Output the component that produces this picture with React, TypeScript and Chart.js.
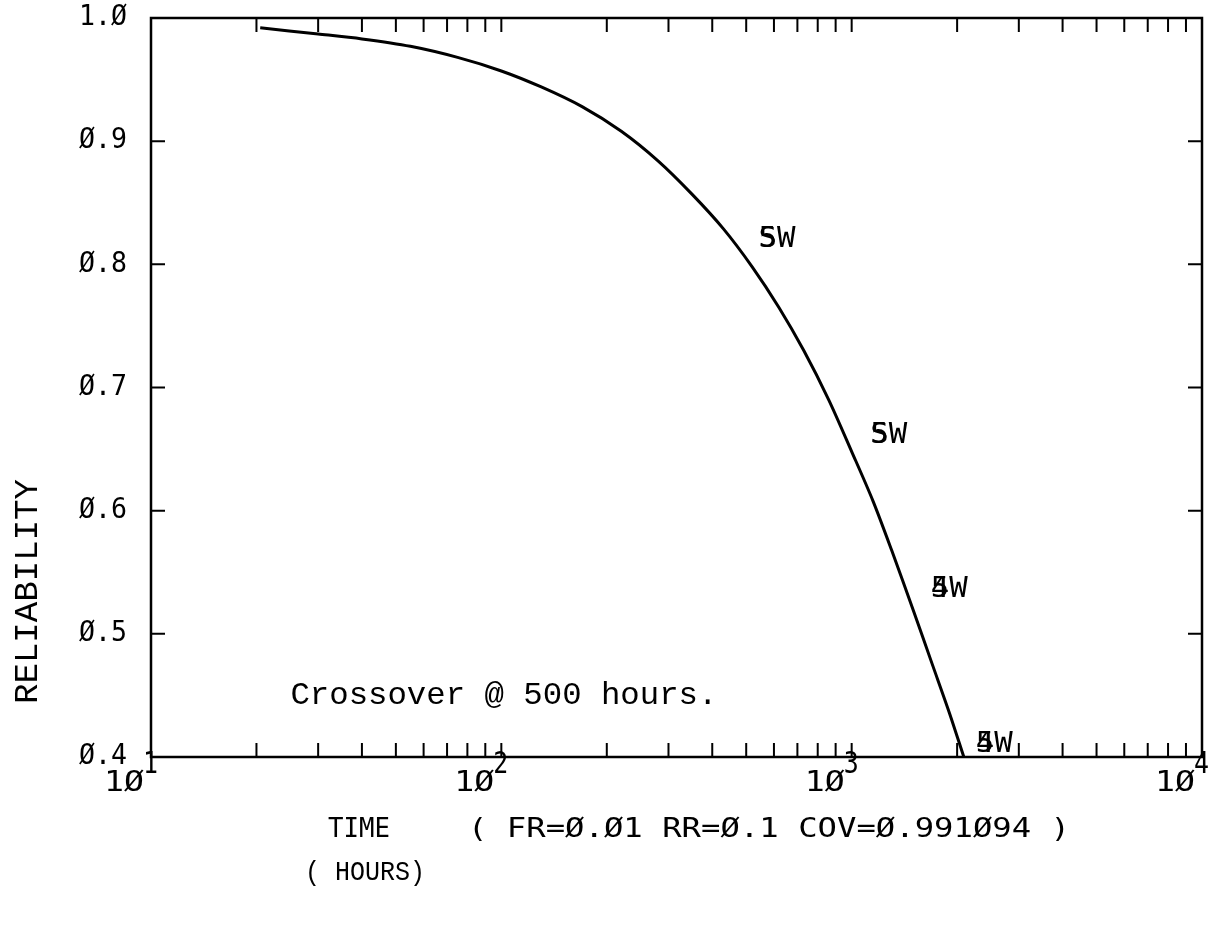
import React, { useEffect, useRef } from "react";
import { Chart, registerables } from "chart.js";

Chart.register(...registerables);

// ---- data ----
const curveTime = [20.5, 30, 40, 55, 75, 100, 130, 170, 220, 280, 350, 430, 520, 620, 730, 860, 1000, 1150, 1300, 1500, 1700, 1900, 2090];
const curveRel = [0.992, 0.987, 0.983, 0.977, 0.968, 0.957, 0.944, 0.928, 0.908, 0.884, 0.857, 0.829, 0.798, 0.765, 0.73, 0.69, 0.648, 0.608, 0.568, 0.519, 0.475, 0.436, 0.4];

const markerTime = [542, 1130, 1683, 2260];
const markerRel = [0.82, 0.661, 0.536, 0.41];
const markerText = ["5W", "5W", "5W", "5W"];
const markerOverstrike = ["S", "S", "4", "4"];

const yTickValues = [0.5, 0.6, 0.7, 0.8, 0.9];
const xMinorTicks = [20, 30, 40, 50, 60, 70, 80, 90, 100, 200, 300, 400, 500, 600, 700, 800, 900, 1000, 2000, 3000, 4000, 5000, 6000, 7000, 8000, 9000];
const xDecades = [10, 100, 1000, 10000];
const xDecadeExponents = ["1", "2", "3", "4"];

const yAxisTitle = "RELIABILITY";
const xAxisTitle = "TIME";
const xAxisNote = "( FR=Ø.Ø1 RR=Ø.1 COV=Ø.991Ø94 )";
const xAxisUnit = "( HOURS)";
const annotationText = "Crossover @ 500 hours.";
const annotationTime = 25;
const annotationRel = 0.45;

const PLOT_FONT = "'DejaVu Sans Mono', monospace";
const COURIER = "'Liberation Mono', 'Courier New', monospace";

function fitText(ctx: CanvasRenderingContext2D, text: string, x: number, y: number, width: number) {
  const w = ctx.measureText(text).width;
  const s = width / w;
  ctx.save();
  ctx.translate(x, y);
  ctx.scale(s, 1);
  ctx.textAlign = "left";
  ctx.textBaseline = "middle";
  ctx.fillText(text, 0, 0);
  ctx.restore();
}

const decorPlugin = {
  id: "decor",
  afterDraw(chart: any) {
    const ctx: CanvasRenderingContext2D = chart.ctx;
    const { left, right, top, bottom } = chart.chartArea;
    const xs = chart.scales.x;
    const ys = chart.scales.y;
    ctx.save();
    ctx.strokeStyle = "#000";
    ctx.fillStyle = "#000";
    ctx.lineWidth = 2.5;
    // frame
    ctx.strokeRect(left, top, right - left, bottom - top);
    // inward ticks
    ctx.lineWidth = 2;
    ctx.beginPath();
    xMinorTicks.forEach((v) => {
      const px = xs.getPixelForValue(v);
      ctx.moveTo(px, bottom);
      ctx.lineTo(px, bottom - 14);
      ctx.moveTo(px, top);
      ctx.lineTo(px, top + 14);
    });
    yTickValues.forEach((v) => {
      const py = ys.getPixelForValue(v);
      ctx.moveTo(left, py);
      ctx.lineTo(left + 14, py);
      ctx.moveTo(right, py);
      ctx.lineTo(right - 14, py);
    });
    ctx.stroke();

    // y tick labels from the scale's own ticks
    ctx.font = `28px ${PLOT_FONT}`;
    ys.ticks.forEach((tk: any) => {
      const py = ys.getPixelForValue(tk.value);
      const label = Number(tk.value).toFixed(1).replace(/0/g, "Ø");
      fitText(ctx, label, left - 24 - 48, py, 48);
    });

    // x decade labels 10^n
    xDecades.forEach((v, i) => {
      const px = xs.getPixelForValue(v);
      ctx.font = `28px ${PLOT_FONT}`;
      fitText(ctx, "1Ø", px - 47, bottom + 27, 40);
      ctx.font = `30px ${PLOT_FONT}`;
      fitText(ctx, xDecadeExponents[i], px - 8, bottom + 8, 15);
    });

    // axis titles
    ctx.font = `26px ${PLOT_FONT}`;
    fitText(ctx, xAxisTitle, 328, 830, 62);
    fitText(ctx, xAxisNote, 468, 830, 602);
    ctx.font = `27px ${COURIER}`;
    fitText(ctx, xAxisUnit, 305, 873, 120);

    ctx.save();
    ctx.translate(28, 592);
    ctx.rotate(-Math.PI / 2);
    ctx.font = `33px ${COURIER}`;
    fitText(ctx, yAxisTitle, -112, 0, 225);
    ctx.restore();

    // annotation
    ctx.font = `32px ${COURIER}`;
    fitText(ctx, annotationText, xs.getPixelForValue(annotationTime), ys.getPixelForValue(annotationRel), 427);

    // markers
    markerTime.forEach((t, i) => {
      const px = xs.getPixelForValue(t);
      const py = ys.getPixelForValue(markerRel[i]);
      ctx.font = `28px ${PLOT_FONT}`;
      fitText(ctx, markerText[i], px, py, 37);
      fitText(ctx, markerOverstrike[i], px, py, 18.5);
    });
    ctx.restore();
  },
};

export default function App() {
  const ref = useRef<HTMLCanvasElement>(null);
  useEffect(() => {
    const canvas = ref.current!;
    const chart = new Chart(canvas, {
      type: "line",
      data: {
        datasets: [
          {
            data: curveTime.map((t, i) => ({ x: t, y: curveRel[i] })),
            borderColor: "#000",
            borderWidth: 3,
            pointRadius: 0,
            tension: 0.3,
            fill: false,
          },
        ],
      },
      options: {
        animation: false,
        responsive: false,
        devicePixelRatio: 1,
        layout: { padding: { top: 18, right: 17, left: 0, bottom: 0 } },
        plugins: { legend: { display: false }, tooltip: { enabled: false } },
        scales: {
          x: {
            type: "logarithmic",
            min: 10,
            max: 10000,
            position: "bottom",
            grid: { display: false, drawTicks: false },
            border: { display: false },
            ticks: { display: false },
            afterFit: (s: any) => {
              s.height = 170;
            },
          },
          y: {
            type: "linear",
            min: 0.4,
            max: 1.0,
            grid: { display: false, drawTicks: false },
            border: { display: false },
            ticks: { display: false, stepSize: 0.1 },
            afterFit: (s: any) => {
              s.width = 151;
            },
          },
        },
      },
      plugins: [decorPlugin],
    } as any);
    return () => chart.destroy();
  }, []);
  return (
    <div style={{ position: "absolute", left: 0, top: 0, width: 1219, height: 927, background: "#fff" }}>
      <canvas ref={ref} width={1219} height={927} style={{ width: 1219, height: 927, display: "block" }} />
    </div>
  );
}
